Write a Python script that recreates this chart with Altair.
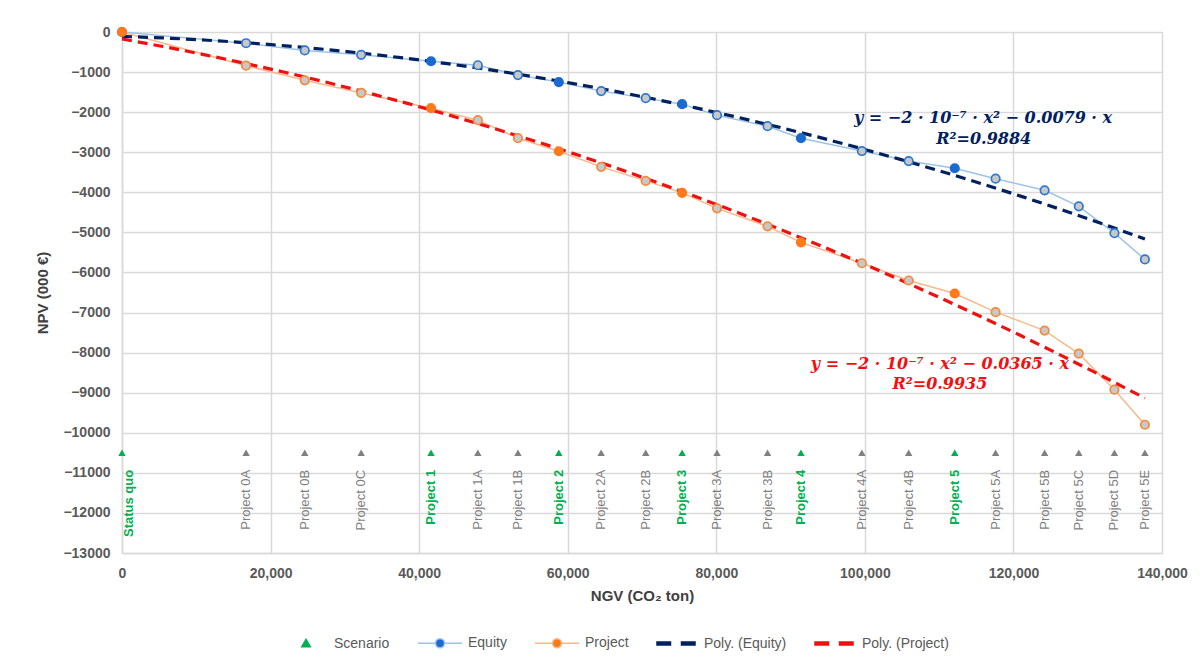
import altair as alt
import pandas as pd

# ---------------- data ----------------
labels = ["Status quo", "Project 0A", "Project 0B", "Project 0C", "Project 1",
          "Project 1A", "Project 1B", "Project 2", "Project 2A", "Project 2B",
          "Project 3", "Project 3A", "Project 3B", "Project 4", "Project 4A",
          "Project 4B", "Project 5", "Project 5A", "Project 5B", "Project 5C",
          "Project 5D", "Project 5E"]
ngv = [0, 16700, 24600, 32200, 41600, 47900, 53300, 58800, 64500, 70500,
       75400, 80100, 86900, 91400, 99600, 105900, 112100, 117600, 124200,
       128800, 133600, 137700]
equity = [0, -280, -460, -570, -730, -830, -1075, -1250, -1475, -1650,
          -1800, -2075, -2350, -2650, -2970, -3220, -3400, -3660, -3950,
          -4350, -5020, -5675]
project = [0, -840, -1205, -1520, -1900, -2200, -2650, -2975, -3365, -3715,
           -4015, -4400, -4850, -5250, -5770, -6200, -6525, -6990, -7450,
           -8025, -8925, -9800]
is_scenario = [True, False, False, False, True, False, False, True, False, False,
               True, False, False, True, False, False, True, False, False, False,
               False, False]
marker_row = -10500

legend_names = ["Scenario", "Equity", "Project", "Poly. (Equity)", "Poly. (Project)"]

eq_equity_text = ["y = −2 · 10⁻⁷ · x² − 0.0079 · x", "R²=0.9884"]
eq_equity_x = [115900, 116000]
eq_equity_y = [-2150, -2675]
eq_project_text = ["y = −2 · 10⁻⁷ · x² − 0.0365 · x", "R²=0.9935"]
eq_project_x = [110100, 110100]
eq_project_y = [-8275, -8775]

# ---------------- tables ----------------
df = pd.DataFrame({"label": labels, "ngv": ngv, "equity": equity,
                   "project": project, "scenario": is_scenario})
eq_eq = pd.DataFrame({"t": eq_equity_text, "x": eq_equity_x, "y": eq_equity_y})
eq_pr = pd.DataFrame({"t": eq_project_text, "x": eq_project_x, "y": eq_project_y})
leg_df = pd.DataFrame({"series": legend_names})

# ---------------- styling ----------------
FONT = "Liberation Sans"
GRID = "#d9d9d9"
NAVY = "#002060"
RED = "#ee1111"
EQ_LINE = "#9dc3e6"
EQ_MARK = "#2f78d0"
EQ_FILL = "#1a6ad0"
PR_LINE = "#f8b88b"
PR_MARK = "#f5893c"
PR_FILL = "#ff7a1a"
GREY_FILL = "#c8c8c8"
GREEN = "#00b050"
TRI_GREY = "#808080"

x_scale = alt.Scale(domain=[0, 140000], nice=False, zero=False)
y_scale = alt.Scale(domain=[-13000, 0], nice=False, zero=False)

x_axis = alt.Axis(values=list(range(0, 140001, 20000)), format=",.0f",
                  title="NGV (CO₂ ton)", grid=True, gridColor=GRID, gridWidth=1.5,
                  domainColor=GRID, domainWidth=1.5, ticks=False, labelFlush=False,
                  labelFont=FONT, labelFontSize=14, labelFontWeight="bold",
                  labelColor="#595959", labelPadding=13,
                  titleFont=FONT, titleFontSize=15, titleFontWeight="bold",
                  titleColor="#404040", titlePadding=8)
y_axis = alt.Axis(values=list(range(-13000, 1, 1000)), format="d",
                  title="NPV (000 €)", grid=True, gridColor=GRID, gridWidth=1.5,
                  domainColor=GRID, domainWidth=1.5, ticks=False,
                  labelFont=FONT, labelFontSize=14, labelFontWeight="bold",
                  labelColor="#595959", labelPadding=12,
                  titleFont=FONT, titleFontSize=15, titleFontWeight="bold",
                  titleColor="#404040", titlePadding=12)

X = alt.X("ngv:Q", scale=x_scale, axis=x_axis)

def Y(field):
    return alt.Y(field + ":Q", scale=y_scale, axis=y_axis)

base = alt.Chart(df)

eq_line = base.mark_line(color=EQ_LINE, strokeWidth=1.5).encode(x=X, y=Y("equity"))
pr_line = base.mark_line(color=PR_LINE, strokeWidth=1.5).encode(x=X, y=Y("project"))

eq_trend = base.transform_regression("ngv", "equity", method="poly", order=2).mark_line(
    color=NAVY, strokeWidth=3.2, strokeDash=[10, 6]).encode(x=X, y=Y("equity"))
pr_trend = base.transform_regression("ngv", "project", method="poly", order=2).mark_line(
    color=RED, strokeWidth=3.2, strokeDash=[10, 6]).encode(x=X, y=Y("project"))

eq_pts = base.mark_point(filled=True, size=72, strokeWidth=1.7, opacity=1).encode(
    x=X, y=Y("equity"),
    fill=alt.condition("datum.scenario", alt.value(EQ_FILL), alt.value(GREY_FILL)),
    stroke=alt.condition("datum.scenario", alt.value(EQ_FILL), alt.value(EQ_MARK)))
pr_pts = base.mark_point(filled=True, size=72, strokeWidth=1.7, opacity=1).encode(
    x=X, y=Y("project"),
    fill=alt.condition("datum.scenario", alt.value(PR_FILL), alt.value(GREY_FILL)),
    stroke=alt.condition("datum.scenario", alt.value(PR_FILL), alt.value(PR_MARK)))

tri = base.mark_point(shape="triangle-up", filled=True, size=55, opacity=1).encode(
    x=X, y=alt.YDatum(marker_row, scale=y_scale, axis=y_axis),
    fill=alt.condition("datum.scenario", alt.value(GREEN), alt.value(TRI_GREY)))

lab_sub = base.transform_filter("!datum.scenario").mark_text(
    angle=270, align="right", baseline="middle", dx=-17, font=FONT,
    fontSize=13, color="#7f7f7f").encode(
    x=X, y=alt.YDatum(marker_row, scale=y_scale, axis=y_axis), text="label:N")
lab_scn = base.transform_filter("datum.scenario && datum.ngv > 0").mark_text(
    angle=270, align="right", baseline="middle", dx=-17, font=FONT,
    fontSize=13, fontWeight="bold", color=GREEN).encode(
    x=X, y=alt.YDatum(marker_row, scale=y_scale, axis=y_axis), text="label:N")
lab_sq = base.transform_filter("datum.ngv == 0").mark_text(
    angle=270, align="right", baseline="middle", dx=-17, dy=7, font=FONT,
    fontSize=13, fontWeight="bold", color=GREEN).encode(
    x=X, y=alt.YDatum(marker_row, scale=y_scale, axis=y_axis), text="label:N")

EQ_FONT = "DejaVu Serif"
eq_txt_eq = alt.Chart(eq_eq).mark_text(
    font=EQ_FONT, fontSize=16, fontWeight="bold", fontStyle="italic",
    color=NAVY, align="center", baseline="middle").encode(
    x=alt.X("x:Q", scale=x_scale, axis=x_axis),
    y=alt.Y("y:Q", scale=y_scale, axis=y_axis), text="t:N")
eq_txt_pr = alt.Chart(eq_pr).mark_text(
    font=EQ_FONT, fontSize=16, fontWeight="bold", fontStyle="italic",
    color=RED, align="center", baseline="middle").encode(
    x=alt.X("x:Q", scale=x_scale, axis=x_axis),
    y=alt.Y("y:Q", scale=y_scale, axis=y_axis), text="t:N")

# ---------------- legend (built by the library from scales) ----------------
shape_paths = [
    "M0,-0.4L0.42,0.32L-0.42,0.32Z",
    "M-2.2,0H-0.45M0.45,0H2.2M0.45,0A0.45,0.45 0 1 1 -0.45,0A0.45,0.45 0 1 1 0.45,0Z",
    "M-2.2,0H-0.45M0.45,0H2.2M0.45,0A0.45,0.45 0 1 1 -0.45,0A0.45,0.45 0 1 1 0.45,0Z",
    "M-1.9,-0.15H-0.55V0.15H-1.9Z M0.55,-0.15H1.9V0.15H0.55Z",
    "M-1.9,-0.15H-0.55V0.15H-1.9Z M0.55,-0.15H1.9V0.15H0.55Z",
]
fill_range = [GREEN, EQ_FILL, PR_FILL, NAVY, RED]
stroke_range = [GREEN, EQ_LINE, PR_LINE, NAVY, RED]

def leg():
    return alt.Legend(title=None, orient="none", legendX=173, legendY=600,
                      direction="horizontal", symbolSize=400, symbolOpacity=1,
                      symbolFillColor="#ffffff", symbolStrokeWidth=1.5,
                      labelFont=FONT, labelFontSize=14, labelColor="#595959",
                      labelOffset=17, columnPadding=25, padding=0)

legend_layer = alt.Chart(leg_df).mark_point(opacity=0).encode(
    fill=alt.Fill("series:N", scale=alt.Scale(domain=legend_names, range=fill_range), legend=leg()),
    stroke=alt.Stroke("series:N", scale=alt.Scale(domain=legend_names, range=stroke_range), legend=leg()),
    shape=alt.Shape("series:N", scale=alt.Scale(domain=legend_names, range=shape_paths), legend=leg()),
)

chart = alt.layer(
    eq_line, pr_line, eq_trend, pr_trend, eq_pts, pr_pts, tri,
    lab_sub, lab_scn, lab_sq, eq_txt_eq, eq_txt_pr, legend_layer
).properties(
    width=1040, height=521,
    padding={"left": 27, "top": 16, "right": 2, "bottom": 2},
).configure_view(strokeWidth=0).configure(background="#ffffff")

chart.save("out.html", embed_options={"renderer": "svg", "actions": False})
